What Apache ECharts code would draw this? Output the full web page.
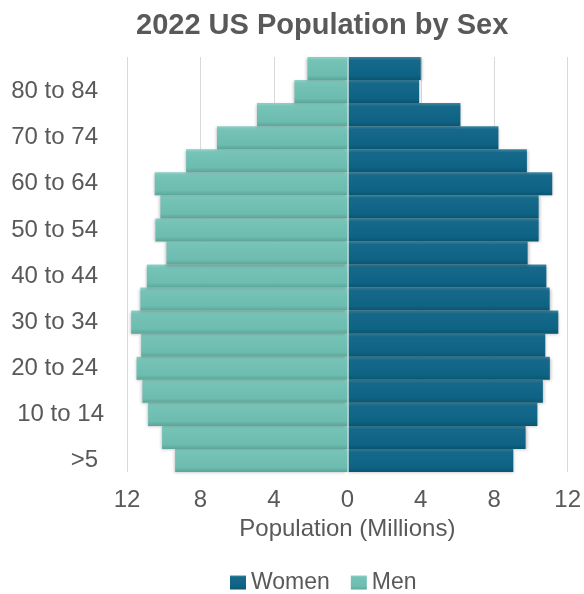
<!DOCTYPE html>
<html>
<head>
<meta charset="utf-8">
<script src="https://cdn.jsdelivr.net/npm/echarts@6/dist/echarts.min.js"></script>
<style>
  html, body { margin: 0; padding: 0; background: #ffffff; }
  #chart { width: 584px; height: 594px; }
</style>
</head>
<body>
<div id="chart"></div>
<script>
// Age groups, youngest at the bottom
const ageGroups = ['>5', '5 to 9', '10 to 14', '15 to 19', '20 to 24', '25 to 29',
  '30 to 34', '35 to 39', '40 to 44', '45 to 49', '50 to 54', '55 to 59',
  '60 to 64', '65 to 69', '70 to 74', '75 to 79', '80 to 84', '85+'];

// Population in millions, same order as ageGroups
const women = [9.04, 9.71, 10.35, 10.65, 11.03, 10.78, 11.49, 11.02, 10.84, 9.82,
  10.42, 10.42, 11.16, 9.78, 8.23, 6.16, 3.91, 4.0];
const men = [9.38, 10.09, 10.85, 11.16, 11.48, 11.23, 11.77, 11.27, 10.92, 9.85,
  10.45, 10.18, 10.49, 8.78, 7.10, 4.92, 2.88, 2.17];

const xTicks = { min: -12, max: 12, step: 4 };

const textColor = '#595959';
const font = 'Liberation Sans, Arial, sans-serif';

function vGrad(stops) {
  return new echarts.graphic.LinearGradient(0, 0, 0, 1,
    stops.map(s => ({ offset: s[0], color: s[1] })));
}

const chart = echarts.init(document.getElementById('chart'), null, { renderer: 'canvas' });

chart.setOption({
  animation: false,
  backgroundColor: '#ffffff',
  title: {
    text: '2022 US Population by Sex',
    left: 131,
    top: 6,
    textStyle: { color: textColor, fontFamily: font, fontSize: 29, fontWeight: 'bold' }
  },
  legend: {
    data: ['Women', 'Men'],
    left: 230,
    top: 571,
    padding: 0,
    icon: 'rect',
    itemWidth: 16,
    itemHeight: 14,
    itemGap: 21,
    textStyle: { color: textColor, fontFamily: font, fontSize: 23 }
  },
  grid: { left: 127, right: 16, top: 57, bottom: 122, containLabel: false },
  xAxis: {
    type: 'value',
    min: xTicks.min,
    max: xTicks.max,
    interval: xTicks.step,
    name: 'Population (Millions)',
    nameLocation: 'middle',
    nameGap: 40,
    nameTextStyle: { color: textColor, fontFamily: font, fontSize: 24 },
    axisLine: { show: false },
    axisTick: { show: false },
    axisLabel: {
      color: textColor, fontFamily: font, fontSize: 24, margin: 16,
      formatter: v => String(Math.abs(v))
    },
    splitLine: { show: true, lineStyle: { color: '#d9d9d9', width: 1 } }
  },
  yAxis: {
    type: 'category',
    data: ageGroups,
    z: 5,
    axisLine: { show: true, onZero: true, lineStyle: { color: '#cde6e2', width: 1.5 } },
    axisTick: { show: false },
    axisLabel: {
      interval: 1,
      color: textColor,
      fontFamily: font,
      fontSize: 24,
      margin: 23,
      formatter: v => (v === '10 to 14' ? '{b|' + v + '}' : '{a|' + v + '}'),
      rich: {
        a: { color: textColor, fontFamily: font, fontSize: 24, padding: [0, 6, 0, 0] },
        b: { color: textColor, fontFamily: font, fontSize: 24 }
      }
    }
  },
  series: [
    {
      name: 'Women',
      type: 'bar',
      data: women,
      barGap: '-100%',
      barCategoryGap: '0%',
      itemStyle: {
        color: vGrad([[0, '#3f87a2'], [0.14, '#16698a'], [0.8, '#0e6283'], [1, '#0a5570']]),
        shadowColor: 'rgba(0,0,0,0.25)', shadowBlur: 3, shadowOffsetX: 1, shadowOffsetY: 1
      }
    },
    {
      name: 'Men',
      type: 'bar',
      data: men.map(v => -v),
      barGap: '-100%',
      barCategoryGap: '0%',
      itemStyle: {
        color: vGrad([[0, '#8fd0c6'], [0.14, '#76c3b7'], [0.8, '#6cbcaf'], [1, '#5ba598']]),
        shadowColor: 'rgba(0,0,0,0.25)', shadowBlur: 3, shadowOffsetX: -1, shadowOffsetY: 1
      }
    }
  ],
  color: ['#10617f', '#6fbfb2']
});
</script>
</body>
</html>
